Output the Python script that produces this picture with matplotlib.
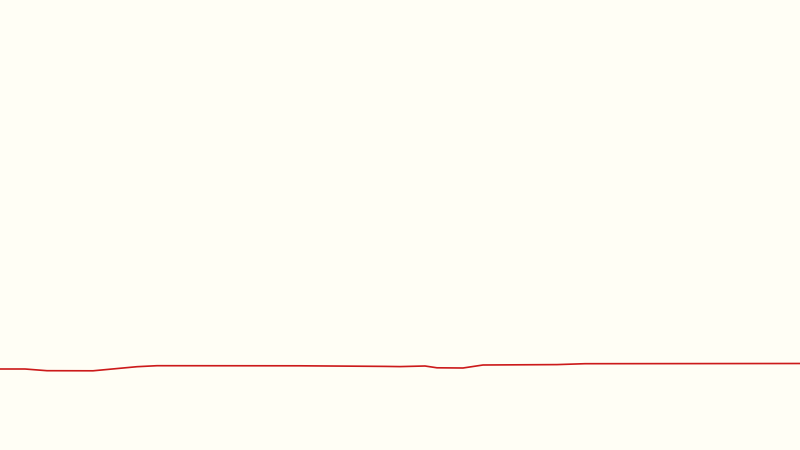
import matplotlib
matplotlib.use("Agg")
import matplotlib.pyplot as plt

# points (x along the width, y as height from bottom)
xs = [0, 25, 47, 93, 137, 157, 300, 385, 400, 425, 437, 463, 483, 557, 585, 700, 800]
values = [81.0, 81.0, 79.3, 79.2, 83.3, 84.3, 84.2, 83.6, 83.4, 84.0, 82.2, 82.0, 85.0, 85.4, 86.3, 86.4, 86.5]

bg = "#fffef5"

fig = plt.figure(figsize=(8, 4.5), dpi=100)
fig.patch.set_facecolor(bg)
ax = fig.add_axes([0, 0, 1, 1])
ax.set_facecolor(bg)
ax.plot(xs, values, color="#cc1a1a", linewidth=1.2)
ax.set_xlim(0, 800)
ax.set_ylim(0, 450)
ax.axis("off")

plt.savefig("out.png", facecolor=bg)
plt.close()
